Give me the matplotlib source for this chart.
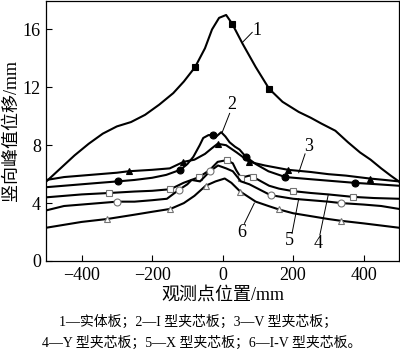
import numpy as np
import matplotlib.pyplot as plt

plt.rcParams['font.family'] = ['Liberation Serif', 'Noto Sans CJK SC']
plt.rcParams['axes.unicode_minus'] = True

x1 = [-500, -460, -420, -380, -340, -300, -260, -220, -180, -140, -110, -78, -50, -30, -10,
      10, 27, 57, 94, 132, 170, 216, 250, 280, 320, 356, 390, 420, 450, 477, 500]
y1 = [5.5, 6.4, 7.3, 8.1, 8.8, 9.3, 9.6, 10.1, 10.8, 11.6, 12.4, 13.4, 14.7, 16.0, 16.8,
      17.0, 16.4, 15.0, 13.4, 11.9, 11.0, 10.3, 9.9, 9.5, 9.0, 8.2, 7.5, 7.0, 6.4, 5.9, 5.5]
m1 = [-78, 27, 132]

x2 = [-500, -450, -400, -350, -298, -250, -200, -160, -120, -100, -83, -65, -55, -40, -27,
      -18, -4, 8, 20, 35, 48, 66, 94, 130, 178, 250, 300, 375, 440, 500]
y2 = [5.1, 5.2, 5.3, 5.4, 5.5, 5.6, 5.75, 5.95, 6.3, 6.7, 7.2, 8.0, 8.5, 8.7, 8.7,
      8.6, 8.9, 8.6, 8.2, 7.9, 7.7, 7.2, 6.7, 6.2, 5.8, 5.65, 5.55, 5.4, 5.3, 5.2]
m2 = [-298, -120, -27, 66, 178, 375]

x3 = [-500, -450, -400, -350, -300, -267, -200, -150, -111, -80, -50, -30, -14, 10, 40,
      76, 120, 186, 250, 300, 350, 417, 460, 500]
y3 = [5.6, 5.8, 5.9, 6.0, 6.1, 6.2, 6.3, 6.4, 6.85, 7.0, 7.4, 7.8, 8.1, 8.0, 7.5,
      6.85, 6.6, 6.3, 6.15, 6.0, 5.9, 5.7, 5.6, 5.5]
m3 = [-267, -111, -14, 76, 186, 417]

x4 = [-500, -450, -400, -321, -250, -200, -148, -111, -66, -36, -14, 12, 29, 38, 52,
      76, 87, 132, 160, 199, 250, 300, 370, 430, 500]
y4 = [4.4, 4.5, 4.6, 4.7, 4.8, 4.85, 4.96, 5.4, 5.8, 6.3, 6.85, 6.97, 6.75, 6.3, 5.75,
      5.9, 5.8, 5.2, 5.0, 4.83, 4.7, 4.6, 4.43, 4.35, 4.3]
m4 = [-321, -148, -66, 12, 52, 87, 199, 370]

x5 = [-500, -450, -400, -350, -300, -250, -200, -158, -125, -100, -88, -64, -36, -13, 10,
      29, 52, 76, 100, 136, 200, 250, 300, 337, 400, 450, 500]
y5 = [3.5, 3.8, 3.9, 4.0, 4.1, 4.1, 4.2, 4.3, 4.9, 5.3, 5.6, 5.5, 6.2, 6.6, 6.4,
      6.2, 5.5, 5.3, 5.0, 4.55, 4.3, 4.2, 4.1, 4.0, 3.9, 3.8, 3.6]
m5 = [-300, -125, -36, 136, 337]

x6 = [-500, -450, -400, -328, -250, -200, -148, -110, -80, -48, -20, 6, 25, 50, 94,
      130, 160, 200, 250, 300, 335, 400, 450, 500]
y6 = [2.3, 2.5, 2.7, 2.9, 3.2, 3.4, 3.6, 4.0, 4.5, 5.2, 5.5, 5.7, 5.4, 4.8, 4.1,
      3.8, 3.56, 3.3, 3.1, 2.9, 2.78, 2.6, 2.45, 2.3]
m6 = [-328, -148, -48, 50, 160, 335]

series = [
    (x1, y1, m1, 's', 'black'),
    (x2, y2, m2, 'o', 'black'),
    (x3, y3, m3, '^', 'black'),
    (x4, y4, m4, 's', 'white'),
    (x5, y5, m5, 'o', 'white'),
    (x6, y6, m6, '^', 'white'),
]

# curve labels: (text, text pos, leader start, leader end)
labels = [
    ('1', (98, 15.9), (84, 15.8), (56, 15.1)),
    ('2', (25, 10.8), (20, 10.2), (-1, 8.9)),
    ('3', (244, 7.9), (234, 7.4), (216, 6.1)),
    ('4', (272, 1.2), (276, 1.8), (300, 4.6)),
    ('5', (190, 1.4), (197, 1.9), (216, 4.3)),
    ('6', (55, 2.0), (62, 2.6), (90, 4.0)),
]

fig = plt.figure(figsize=(4, 3.59), dpi=100)
ax = fig.add_axes([0.116, 0.273, 0.881, 0.7256])

for xs, ys, ms, mk, fc in series:
    ax.plot(xs, ys, color='black', lw=1.5)
    my = np.interp(ms, xs, ys)
    ax.plot(ms, my, linestyle='none', marker=mk, markersize=5,
            markerfacecolor=fc, markeredgecolor='black' if fc == 'black' else '0.45',
            markeredgewidth=0.8)

for txt, tpos, l0, l1 in labels:
    ax.plot([l0[0], l1[0]], [l0[1], l1[1]], color='black', lw=0.7)
    ax.text(tpos[0], tpos[1], txt, fontsize=13, ha='center', va='center')

ax.set_xlim(-500, 500)
ax.set_ylim(0, 18)
ax.set_xticks([-400, -200, 0, 200, 400])
ax.set_yticks([0, 4, 8, 12, 16])
ax.tick_params(direction='in', length=4, width=0.8, labelsize=13, pad=4)
for sp in ax.spines.values():
    sp.set_linewidth(0.9)

ax.set_xlabel('观测点位置/mm', fontsize=13, labelpad=2)
ax.set_ylabel('竖向峰值位移/mm', fontsize=13, labelpad=2)

fig.text(0.495, 0.103, '1—实体板；2—I 型夹芯板；3—V 型夹芯板；', fontsize=10,
         ha='center', va='center')
fig.text(0.505, 0.045, '4—Y 型夹芯板；5—X 型夹芯板；6—I-V 型夹芯板。', fontsize=10,
         ha='center', va='center')

fig.savefig('out.png', dpi=100)
